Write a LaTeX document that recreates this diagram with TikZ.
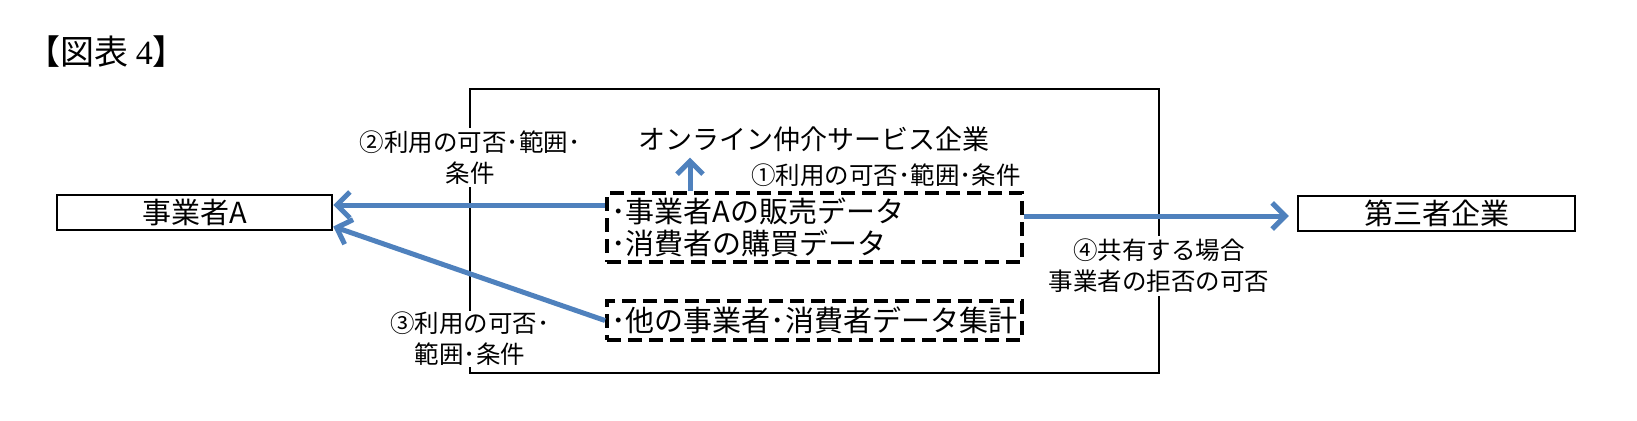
\documentclass[tikz,border=0pt]{standalone}
\usepackage{fontspec}
\setmainfont{Noto Sans CJK JP}
\newfontfamily\serifdigit{Liberation Serif}
\usetikzlibrary{arrows.meta}
\definecolor{arrowblue}{HTML}{4F81BD}
\tikzset{
  boxtext/.style={font=\fontsize{29}{32}\selectfont},
  lbl/.style={font=\fontsize{24.5}{31}\selectfont, align=center, fill=white, inner xsep=3pt, inner ysep=1pt},
  solidbox/.style={draw=black, line width=2.5pt, boxtext, inner sep=0pt},
  dashbox/.style={draw=black, line width=4pt, dash pattern=on 14pt off 7pt, boxtext, align=left, inner sep=0pt},
  bluearrow/.style={draw=arrowblue, line width=5pt, -{Straight Barb[length=13pt,width=26pt]}},
}
\begin{document}
\begin{tikzpicture}[x=1pt,y=-1pt]
\useasboundingbox (0,0) rectangle (1637,420);
% title
\node[anchor=west, font=\fontsize{34}{36}\selectfont, inner sep=0pt] (title) at (26,52) {【図表 {\serifdigit 4}】};
% big frame
\draw[line width=2pt] (470,89) rectangle (1159,373);
% side boxes
\node[solidbox, minimum width=275pt, minimum height=35pt] (bizA) at (194.5,212.5) {事業者A};
\node[solidbox, minimum width=277pt, minimum height=35pt] (third) at (1436.5,213.5) {第三者企業};
% inner title
\node[font=\fontsize{27}{28}\selectfont, inner sep=0pt] (online) at (814,139) {オンライン仲介サービス企業};
% dashed boxes
\node[dashbox, minimum width=415pt, minimum height=69pt, text width=407pt] (d1) at (814.5,227.5) {･事業者Aの販売データ\\･消費者の購買データ};
\node[dashbox, minimum width=415pt, minimum height=39pt, text width=407pt] (d2) at (814.5,320.5) {･他の事業者･消費者データ集計};
% labels
\node[lbl, anchor=east, inner sep=0pt, fill=none] (l1) at (1021,175) {①利用の可否･範囲･条件};
\node[lbl, inner ysep=3pt] (l2) at (470,157.5) {②利用の可否･範囲･\\条件};
\node[lbl] (l3) at (470,339) {③利用の可否･\\範囲･条件};
\node[lbl, inner ysep=3pt] (l4) at (1159,266) {④共有する場合\\事業者の拒否の可否};
% arrows
\draw[bluearrow] ([yshift=22.5pt]d1.west) -- ([yshift=22.5pt]d1.west -| bizA.east);
\draw[bluearrow] (d2.west) -- ([yshift=-14pt]bizA.east);
\draw[bluearrow, shorten >=8pt] ([yshift=11.5pt]d1.east) -- ([yshift=11.5pt]d1.east -| third.west);
\draw[bluearrow, shorten >=6pt] ([xshift=-124.5pt]d1.north) -- ([xshift=-124.5pt]d1.north |- online.south);
\end{tikzpicture}
\end{document}
